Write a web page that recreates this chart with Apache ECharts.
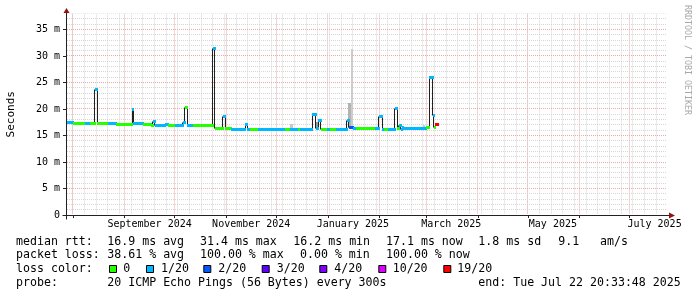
<!DOCTYPE html>
<html><head><meta charset="utf-8">
<script src="https://cdn.jsdelivr.net/npm/echarts@6/dist/echarts.min.js"></script>
<style>html,body{margin:0;padding:0;background:#fff}#c{width:697px;height:297px}</style>
</head><body><div id="c"></div><script>
// ---------------- data ----------------
const axisStart = '2024-07-27 20:33:48';
const axisEnd = '2025-07-22 20:33:48';
const yMax = 38;
const yLabelValues = [0, 5, 10, 15, 20, 25, 30, 35];
const monthStarts = ['2024-08-01','2024-09-01','2024-10-01','2024-11-01','2024-12-01','2025-01-01',
  '2025-02-01','2025-03-01','2025-04-01','2025-05-01','2025-06-01','2025-07-01'];
const firstWeekLine = '2024-08-01';
const xLabelDates = ['2024-09-16','2024-11-16','2025-01-16','2025-03-16','2025-05-16','2025-07-16'];
const xLabelTexts = ['September 2024','November 2024','January 2025','March 2025','May 2025','July 2025'];

// median rtt (ms) per segment; segment i spans segBounds[i] .. segBounds[i+1]
const segBounds = ['2024-07-28 12:00','2024-08-01','2024-08-08','2024-08-11','2024-08-14','2024-08-15 12:00',
  '2024-08-22','2024-08-27','2024-09-05 12:00','2024-09-06 08:00','2024-09-12','2024-09-17','2024-09-18',
  '2024-09-19','2024-09-25','2024-09-27','2024-10-01','2024-10-05 20:00','2024-10-07','2024-10-08 14:00',
  '2024-10-12','2024-10-24','2024-10-25 04:00','2024-10-29 20:00','2024-10-31 10:00','2024-11-04',
  '2024-11-12 12:00','2024-11-13 14:00','2024-11-15','2024-11-20','2024-12-06','2024-12-09','2024-12-14',
  '2024-12-15','2024-12-22 14:00','2024-12-24 14:00','2024-12-26 05:00','2024-12-27 14:00','2024-12-31 12:00',
  '2025-01-02','2025-01-06','2025-01-12 05:00','2025-01-13 14:00','2025-01-15 20:00','2025-01-18',
  '2025-01-29','2025-01-31 14:00','2025-02-02 14:00','2025-02-03 12:00','2025-02-06','2025-02-10',
  '2025-02-11 14:00','2025-02-12 14:00','2025-02-13 14:00','2025-02-14 14:00','2025-02-15 06:00',
  '2025-03-01','2025-03-02 20:00','2025-03-04 20:00','2025-03-05 14:00','2025-03-06 12:00','2025-03-08 06:00'];
const medianMs = [17.4,17.2,17.3,17.2,23.7,17.2,17.2,17.0,19.9,17.2,17.1,16.8,17.6,16.9,17.1,16.8,16.9,17.5,
  20.3,16.9,16.9,31.4,16.4,18.6,16.4,16.2,17.1,16.2,16.2,16.2,16.2,16.2,16.2,16.2,19.0,16.3,17.9,16.2,
  16.2,16.2,16.2,17.9,16.6,16.4,16.4,16.4,18.5,16.2,16.2,16.2,20.1,16.3,16.9,16.1,16.6,16.4,16.5,25.9,
  18.7,16.6,17.1];
// lost pings out of 20 per segment
const lostPings = [1,0,1,0,1,0,1,0,1,1,0,0,1,1,1,0,1,1,0,1,0,1,0,1,0,1,1,1,0,1,0,1,0,1,1,1,1,0,1,0,1,1,
  2,1,0,1,1,1,0,1,1,0,1,1,1,1,0,1,1,0,19];

// smoke (ping spread) blocks
const smokeFrom = ['2024-12-09 12:00','2024-12-24 14:00','2025-01-13 06:00','2025-01-14 14:00','2025-02-27 00:00'];
const smokeTo   = ['2024-12-11 06:00','2024-12-26 12:00','2025-01-14 14:00','2025-01-16 06:00','2025-02-28 12:00'];
const smokeLow  = [16.2, 16.3, 16.4, 16.4, 16.4];
const smokeHigh = [17.1, 17.6, 21.2, 31.3, 17.0];
const smokeDensity = [0.22, 0.4, 0.3, 0.2, 0.2];

const lossKeys = [0, 1, 2, 3, 4, 10, 19];
const lossLabels = ['0', '1/20', '2/20', '3/20', '4/20', '10/20', '19/20'];

const legendRows = [
  [['median rtt:', 16], ['16.9 ms avg', 107.3], ['31.4 ms max', 200], ['16.2 ms min', 293.3], ['17.1 ms now', 386], ['1.8 ms sd', 478.3], ['9.1', 558.3], ['am/s', 600]],
  [['packet loss:', 16], ['38.61 % avg', 107.3], ['100.00 % max', 200], ['0.00 % min', 300], ['100.00 % now', 386]],
  [['loss color:', 16]],
  [['probe:', 16], ['20 ICMP Echo Pings (56 Bytes) every 300s', 107.3], ['end: Tue Jul 22 20:33:48 2025', 478.3]]
];

// ---------------- styles ----------------
const lossColor = {0:'#26ff00',1:'#00b8ff',2:'#0059ff',3:'#5e00ff',4:'#7e00ff',10:'#dd00ff',19:'#ff0000'};
const MONO = '"DejaVu Sans Mono", monospace';
const minorGrid = '#d6d6d6', majorGrid = '#eeaaaa';

function ts(s){ return new Date(s.length === 10 ? s + 'T00:00:00' : s.replace(' ', 'T')).getTime(); }

const tStart = ts(axisStart), tEnd = ts(axisEnd);
const segData = medianMs.map((v, i) => [ts(segBounds[i]), ts(segBounds[i+1]), v, lostPings[i], i > 0 ? medianMs[i-1] : v]);
const smokeData = smokeLow.map((lo, i) => [ts(smokeFrom[i]), ts(smokeTo[i]), lo, smokeHigh[i], smokeDensity[i]]);

const vGrid = [];
{ const d = new Date(ts(firstWeekLine)); while (d.getTime() < tEnd) { vGrid.push([d.getTime(), 0, 0]); d.setDate(d.getDate() + 7); } }
monthStarts.forEach(m => vGrid.push([ts(m), 0, 1]));
const hGrid = [];
for (let v = 1; v <= yMax; v++) if (v % 5) hGrid.push([tStart, v, 0]);
for (let v = 5; v <= yMax; v += 5) hGrid.push([tStart, v, 1]);

const labelMap = {}; xLabelDates.forEach((d, i) => labelMap[ts(d)] = xLabelTexts[i]);

const pr = y => Math.round(y - 0.5) + 0.5;

const chart = echarts.init(document.getElementById('c'), null, {renderer: 'canvas', width: 697, height: 297});
chart.setOption({
  animation: false,
  backgroundColor: '#ffffff',
  grid: {left: 66, top: 13.5, width: 600, height: 201.6, containLabel: false, outerBoundsMode: 'none'},
  xAxis: {
    type: 'value', min: tStart, max: tEnd, scale: true,
    axisLine: {show: true, lineStyle: {color: '#222', width: 1}},
    axisTick: {show: true, customValues: monthStarts.map(ts), length: 3, lineStyle: {color: '#222'}},
    axisLabel: {customValues: xLabelDates.map(ts), formatter: v => labelMap[v] || '', fontFamily: MONO, fontSize: 10, color: '#000', margin: 4, hideOverlap: false, showMinLabel: true, showMaxLabel: true},
    splitLine: {show: false}
  },
  yAxis: {
    type: 'value', min: 0, max: yMax, interval: 1,
    axisLine: {show: true, lineStyle: {color: '#222', width: 1}},
    axisTick: {show: true, customValues: yLabelValues, length: 3, lineStyle: {color: '#222'}},
    axisLabel: {customValues: yLabelValues, formatter: v => v === 0 ? '0' : v + ' m', fontFamily: MONO, fontSize: 10, color: '#000', margin: 6},
    splitLine: {show: false},
    name: 'Seconds', nameLocation: 'middle', nameRotate: 90, nameGap: 49,
    nameTextStyle: {fontFamily: MONO, fontSize: 11, color: '#000'}
  },
  series: [
    { type: 'custom', z: 1, silent: true, clip: true, data: vGrid, encode: {x: 0, y: 1},
      renderItem: (p, api) => {
        const x = pr(api.coord([api.value(0), 0])[0]);
        const cs = p.coordSys;
        return {type: 'line', shape: {x1: x, y1: cs.y, x2: x, y2: cs.y + cs.height - 1},
          style: {stroke: api.value(2) ? majorGrid : minorGrid, lineWidth: 1, lineDash: [1, 1]}};
      }},
    { type: 'custom', z: 1, silent: true, clip: true, data: hGrid, encode: {x: 0, y: 1},
      renderItem: (p, api) => {
        const y = pr(api.coord([api.value(0), api.value(1)])[1]);
        const cs = p.coordSys;
        return {type: 'line', shape: {x1: Math.round(cs.x) + 1, y1: y, x2: cs.x + cs.width, y2: y},
          style: {stroke: api.value(2) ? majorGrid : minorGrid, lineWidth: 1, lineDash: [1, 1]}};
      }},
    { type: 'custom', z: 3, silent: true, clip: true, data: smokeData, encode: {x: [0, 1], y: [2, 3]},
      renderItem: (p, api) => {
        const a = api.coord([api.value(0), api.value(3)]);
        const b = api.coord([api.value(1), api.value(2)]);
        const g = Math.round(255 - api.value(4) * 255);
        const x0 = Math.round(a[0]), x1 = Math.round(b[0]), y0 = Math.round(a[1]), y1 = Math.round(b[1]);
        return {type: 'rect', shape: {x: x0, y: y0, width: Math.max(1, x1 - x0), height: y1 - y0},
          style: {fill: `rgb(${g},${g},${g})`}};
      }},
    { type: 'custom', z: 4, silent: true, clip: true, data: segData, encode: {x: [0, 1], y: 2},
      renderItem: (p, api) => {
        if (p.dataIndex === 0) return null;
        const x = pr(api.coord([api.value(0), 0])[0]);
        const ya = pr(api.coord([api.value(0), api.value(4)])[1]);
        const yb = pr(api.coord([api.value(0), api.value(2)])[1]);
        return {type: 'line', shape: {x1: x, y1: ya, x2: x, y2: yb}, style: {stroke: '#202020', lineWidth: 1}};
      }},
    { type: 'custom', z: 5, silent: true, clip: true, data: segData, encode: {x: [0, 1], y: 2},
      renderItem: (p, api) => {
        const x0 = Math.round(api.coord([api.value(0), 0])[0]);
        const x1 = Math.round(api.coord([api.value(1), 0])[0]);
        const y = pr(api.coord([api.value(0), api.value(2)])[1]);
        return {type: 'line', shape: {x1: x0, y1: y, x2: x1 + 1, y2: y},
          style: {stroke: lossColor[api.value(3)], lineWidth: 3, lineCap: 'butt'}};
      }}
  ]
});

// decorations: axis extensions, arrows, legend, watermark
const tl = chart.convertToPixel({gridIndex: 0}, [tStart, yMax]);
const br = chart.convertToPixel({gridIndex: 0}, [tEnd, 0]);
const X0 = Math.round(tl[0]) + 0.5, Y0 = Math.round(br[1]) + 0.5, X1 = Math.round(br[0]), YT = Math.round(tl[1]);
const ARROW = '#8c1414';
const g = [
  {type: 'line', z: 100, shape: {x1: X0 - 4, y1: Y0, x2: X1 + 3, y2: Y0}, style: {stroke: '#222', lineWidth: 1}},
  {type: 'line', z: 100, shape: {x1: X0, y1: Y0 + 4, x2: X0, y2: YT - 1}, style: {stroke: '#222', lineWidth: 1}},
  {type: 'polygon', z: 100, shape: {points: [[X1 + 3, Y0 - 3], [X1 + 9, Y0], [X1 + 3, Y0 + 3]]}, style: {fill: ARROW}},
  {type: 'polygon', z: 100, shape: {points: [[X0 - 3, YT - 1], [X0, YT - 6], [X0 + 3, YT - 1]]}, style: {fill: ARROW}},
  {type: 'text', x: 687.5, y: 5, rotation: -Math.PI / 2,
    style: {text: 'RRDTOOL / TOBI OETIKER', fontFamily: MONO, fontSize: 8.3, fill: '#a8a8a8', align: 'left', verticalAlign: 'middle'}}
];
const rowY = [241.7, 255.2, 269, 282.7];
legendRows.forEach((row, r) => row.forEach(([t, x]) => g.push({type: 'text', x: x, y: rowY[r],
  style: {text: t, fontFamily: MONO, fontSize: 11.6, fill: '#000', verticalAlign: 'middle'}})));
const boxX = [109, 146, 203.3, 261.7, 319.3, 378.3, 443.3];
const boxLabelX = [123.3, 161, 218.3, 276.7, 334.3, 392.7, 457.3];
lossKeys.forEach((k, i) => {
  g.push({type: 'rect', shape: {x: boxX[i] + 0.5, y: 265.5, width: 7, height: 7}, style: {fill: lossColor[k], stroke: '#000', lineWidth: 1}});
  g.push({type: 'text', x: boxLabelX[i], y: rowY[2], style: {text: lossLabels[i], fontFamily: MONO, fontSize: 11.6, fill: '#000', verticalAlign: 'middle'}});
});
chart.setOption({graphic: g});
</script></body></html>
